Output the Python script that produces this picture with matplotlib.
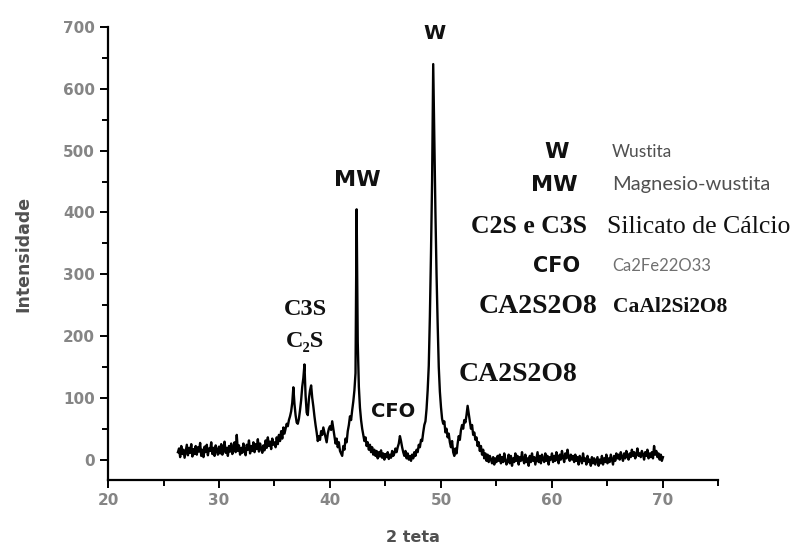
import numpy as np
import matplotlib
matplotlib.use("Agg")
import matplotlib.pyplot as plt
from matplotlib.ticker import MultipleLocator

# XRD scan: 2 theta from 26.3 to 70.0 in 0.1 steps, intensity
scan_start = 26.3
scan_step = 0.1
intensity = [
    12, 18, 4, 22, 9, 16, 3,                       # 26.3 - 26.9
    14, 24, 7, 19, 11, 25, 5, 17, 9, 22,           # 27
    8, 20, 13, 27, 6, 16, 4, 21, 12, 24,           # 28
    7, 18, 14, 28, 9, 19, 6, 23, 15, 8,            # 29
    21, 10, 25, 8, 17, 29, 11, 19, 6, 22,          # 30
    13, 26, 9, 18, 28, 12, 40, 14, 23, 8,          # 31
    19, 11, 26, 15, 7, 24, 16, 31, 10, 22,         # 32
    14, 28, 12, 25, 17, 33, 13, 26, 18, 11,        # 33
    23, 15, 31, 19, 36, 22, 29, 17, 34, 24,        # 34
    28, 20, 36, 25, 40, 30, 46, 34, 52, 42,        # 35
    50, 58, 54, 64, 70, 78, 92, 117, 90, 72,       # 36
    60, 58, 66, 80, 96, 118, 132, 154, 104, 76,    # 37
    72, 98, 112, 120, 100, 86, 70, 56, 44, 30,     # 38
    38, 32, 46, 40, 52, 44, 36, 28, 42, 50,        # 39
    54, 48, 62, 50, 38, 26, 34, 20, 28, 14,        # 40
    10, 6, 22, 16, 34, 28, 46, 56, 70, 64,         # 41
    80, 94, 112, 140, 405, 190, 118, 84, 64, 50,   # 42
    40, 30, 36, 22, 28, 16, 24, 12, 20, 8,         # 43
    16, 6, 14, 2, 12, 5, 15, 3, 10, 0,             # 44
    9, 4, 12, 1, 8, 3, 14, 6, 10, 18,              # 45
    12, 20, 26, 38, 30, 20, 12, 6, 14, 2,          # 46
    10, 0, 6, -2, 8, 2, 12, 6, 16, 12,             # 47
    24, 20, 32, 30, 44, 56, 62, 82, 112, 152,      # 48
    232, 334, 452, 640, 520, 400, 300, 220, 150, 110,  # 49
    85, 66, 58, 62, 44, 50, 36, 42, 28, 20,        # 50
    30, 12, 6, 18, 10, 26, 38, 32, 48, 56,         # 51
    50, 64, 60, 72, 87, 74, 62, 50, 56, 40,        # 52
    44, 32, 36, 22, 28, 14, 22, 8, 16, 2,          # 53
    10, -2, 8, -4, 6, 0, -6, 4, -8, 2,             # 54
    -4, 6, -2, 8, -6, 4, -4, 10, 0, -8,            # 55
    -2, 8, -6, 6, -10, 2, -4, 10, -2, 6,           # 56
    -8, 4, -2, 12, 0, -6, 8, -4, 2, -10,           # 57
    6, -4, 10, -2, 4, -8, 2, 12, -4, 6,            # 58
    -6, 8, 0, -4, 10, -2, 6, -8, 4, 0,             # 59
    10, -4, 6, -2, 12, 2, -6, 8, 0, 14,            # 60
    4, -4, 10, 2, 16, 4, -2, 8, 0, 6,              # 61
    -4, 8, -2, 4, -8, 6, 0, -6, 10, -2,            # 62
    2, -8, 6, -4, 0, -10, 4, -6, 2, -8,            # 63
    -2, 4, -10, 0, -6, 6, -8, 2, -4, 8,            # 64
    -6, 2, -4, 8, 0, -8, 6, -2, 10, 2,             # 65
    8, 0, 12, 4, -2, 10, 2, 14, 6, 0,              # 66
    10, 4, 16, 6, 12, 2, 8, 18, 6, 10,             # 67
    4, 14, 8, 0, 12, 6, 16, 2, 10, 4,              # 68
    12, 2, 22, 8, 14, 4, 10, 0, 8, -2,             # 69
    4,                                             # 70.0
]
two_theta = np.round(scan_start + scan_step * np.arange(len(intensity)), 1)

# legend entries at the right of the plot
legend_symbols = ["W", "MW", "C2S e C3S", "CFO", "CA2S2O8"]
legend_names = ["Wustita", "Magnesio-wustita", "Silicato de Cálcio",
                "Ca2Fe22O33", "CaAl2Si2O8"]
legend_y = [497, 445, 377, 314, 247]

fig = plt.figure(figsize=(7.93, 5.47), dpi=100)
ax = fig.add_axes([0.1362, 0.1225, 0.7698, 0.8281])

ax.plot(two_theta, intensity, color="black", lw=1.7)

ax.set_xlim(20, 75)
ax.set_ylim(-33, 700)
ax.set_xticks([20, 30, 40, 50, 60, 70])
ax.xaxis.set_minor_locator(MultipleLocator(5))
ax.yaxis.set_major_locator(MultipleLocator(100))
ax.yaxis.set_minor_locator(MultipleLocator(50))
ax.set_xlim(20, 75)

for s in ["top", "right"]:
    ax.spines[s].set_visible(False)
for s in ["left", "bottom"]:
    ax.spines[s].set_linewidth(1.6)

ax.tick_params(which="major", direction="out", length=6, width=1.4,
               labelsize=11, labelcolor="#858585")
ax.tick_params(which="minor", direction="out", length=4, width=1.4)
for lab in ax.get_xticklabels() + ax.get_yticklabels():
    lab.set_fontweight("bold")

ax.set_xlabel("2 teta", fontsize=11.5, color="#505050", fontweight="bold", labelpad=16)
ax.set_ylabel("Intensidade", fontsize=12.5, color="#505050", fontweight="bold", labelpad=22)

sans_bold = dict(family="DejaVu Sans", fontweight="bold", color="#111111")
serif_bold = dict(family=["Liberation Serif", "DejaVu Serif"], fontweight="bold",
                  color="#111111")

# peak labels
ax.text(49.45, 690, "W", ha="center", va="center", fontsize=14.5, clip_on=False, **sans_bold)
ax.text(42.5, 452, "MW", ha="center", va="center", fontsize=16, **sans_bold)
ax.text(45.7, 78, "CFO", ha="center", va="center", fontsize=14, **sans_bold)
ax.text(37.75, 243, "C3S", ha="center", va="center", fontsize=17.5, **serif_bold)
ax.text(37.75, 191, "C\u2082S", ha="center", va="center", fontsize=17.5, **serif_bold)
ax.text(51.55, 137, "CA2S2O8", ha="left", va="center", fontsize=20, **serif_bold)

# legend block
sym_x = [60.45, 60.2, 63.2, 60.45, 53.35]
sym_ha = ["center", "center", "right", "center", "left"]
sym_style = [sans_bold, sans_bold, serif_bold, sans_bold, serif_bold]
sym_size = [16, 16, 18.5, 15, 20]
for sym, x, ha, st, fs, y in zip(legend_symbols, sym_x, sym_ha, sym_style, sym_size, legend_y):
    ax.text(x, y, sym, ha=ha, va="center", fontsize=fs, clip_on=False, **st)

name_x = [65.4, 65.4, 64.95, 65.4, 65.5]
name_style = [
    dict(family="Lato", color="#505050", fontsize=12.5),
    dict(family="Lato", color="#505050", fontsize=14.5),
    dict(family=["Liberation Serif", "DejaVu Serif"], color="#111111", fontsize=18.5),
    dict(family="Lato", color="#707070", fontsize=12),
    dict(family=["Liberation Serif", "DejaVu Serif"], fontweight="bold",
         color="#111111", fontsize=15.5),
]
for name, x, st, y in zip(legend_names, name_x, name_style, legend_y):
    ax.text(x, y, name, ha="left", va="center", clip_on=False, **st)

fig.savefig("out.png", dpi=100)
